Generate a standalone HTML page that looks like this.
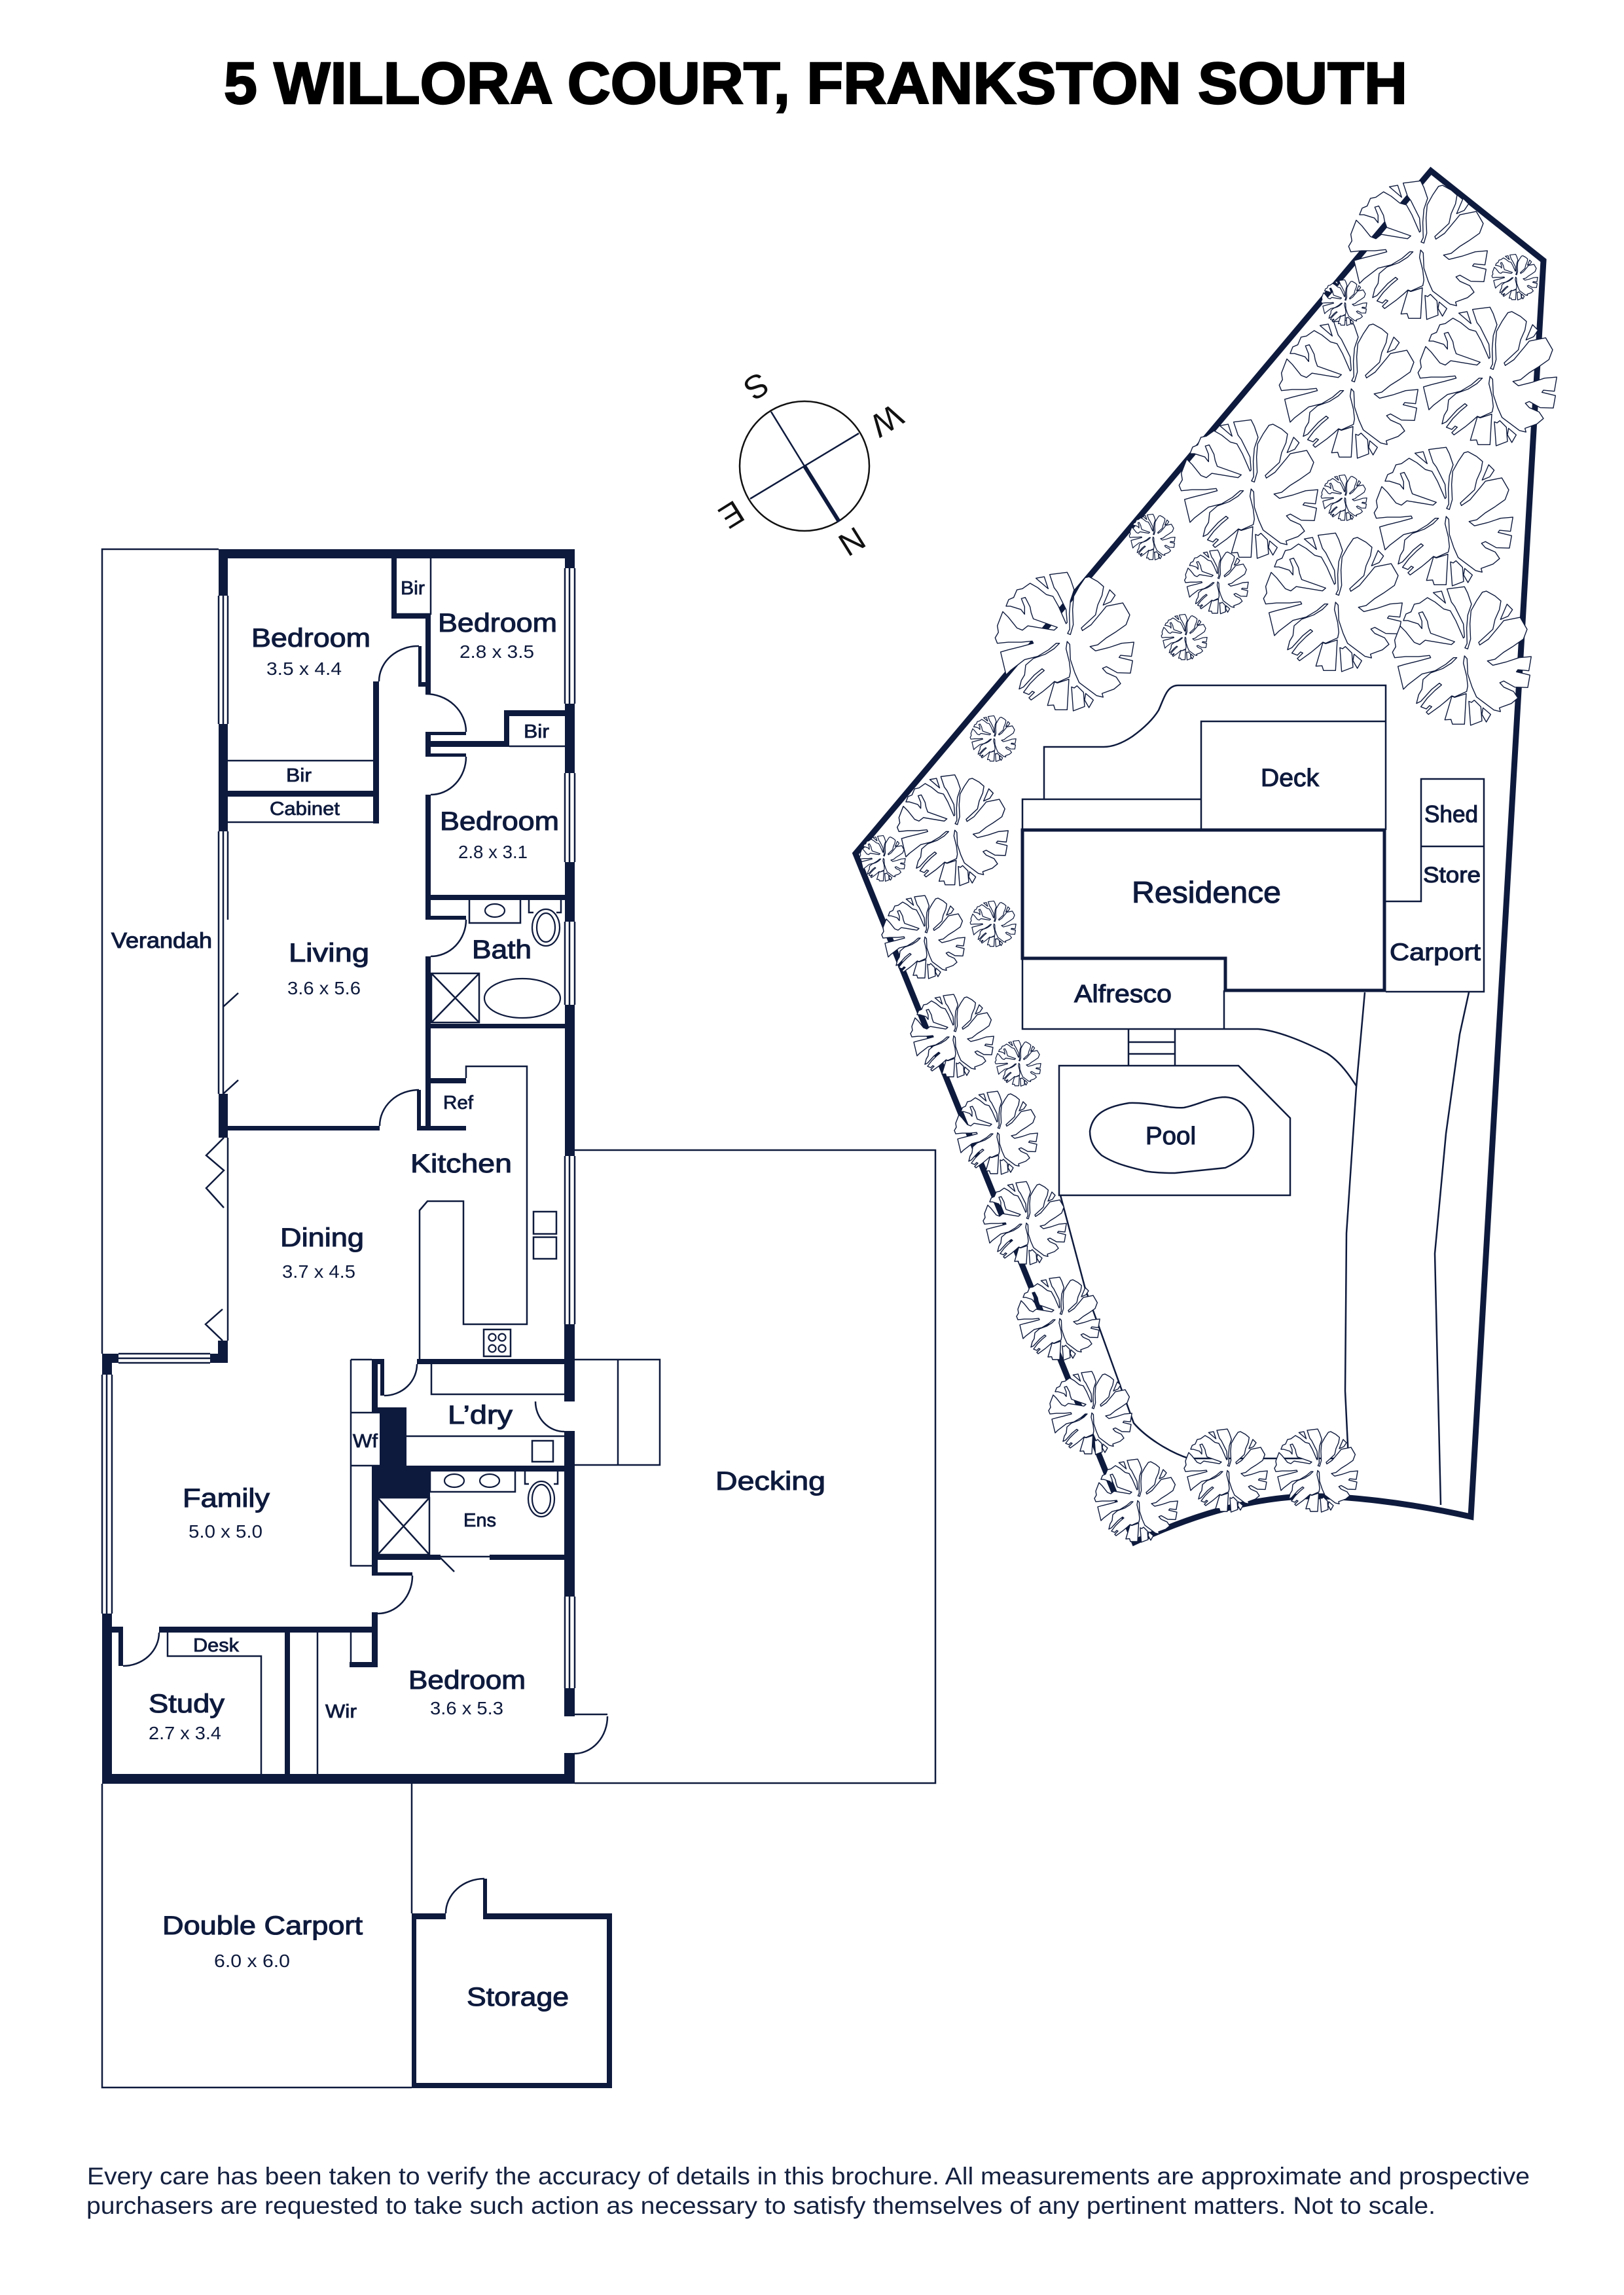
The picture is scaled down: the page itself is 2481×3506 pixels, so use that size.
<!DOCTYPE html>
<html><head><meta charset="utf-8"><style>
html,body{margin:0;padding:0;background:#fff}
svg{display:block}
text{font-family:"Liberation Sans",sans-serif;fill:#0e1a3d}
.l{font-size:40px;stroke:#0e1a3d;stroke-width:1.1px}
.s{font-size:29px;stroke:#0e1a3d;stroke-width:.8px}
.d{font-size:28px}
.thin{fill:none;stroke:#0e1a3d;stroke-width:2.5}
</style></head><body>
<svg xmlns="http://www.w3.org/2000/svg" width="2481" height="3506" viewBox="0 0 2481 3506">
<rect width="2481" height="3506" fill="#fff"/>
<defs>
<path id="t" fill="#fff" fill-rule="evenodd" stroke="#0e1a3d" stroke-linejoin="round" d="M250,30L330,20 345,50 362,100 345,150 340,210 342,280 332,300 345,305 358,260 355,190 360,130 385,85 412,45 430,40 470,62 497,85 490,125 470,170 460,215 395,275 400,287 440,260 490,200 510,175 585,160 617,215 600,260 550,295 510,320 470,352 435,360 460,380 520,365 580,345 636,340 625,405 575,400 568,410 630,425 620,482 560,480 510,452 492,460 510,480 555,500 575,530 545,555 490,575 495,592 465,585 425,555 385,525 365,480 345,420 342,350 330,337 325,370 340,430 345,475 340,500 285,525 272,520 250,540 220,565 165,605 155,595 180,570 170,565 155,580 130,570 160,530 195,495 225,470 215,462 180,490 130,545 110,555 120,515 135,490 140,445 175,415 230,395 270,370 295,345 280,345 245,375 195,405 135,420 70,470 50,490 25,385 60,375 120,360 175,345 170,335 120,340 60,340 10,345 0,320 15,295 10,265 35,200 60,225 100,275 125,285 150,265 270,285 285,272 175,233 165,205 160,178 138,135 120,140 135,178 135,212 118,190 70,175 50,175 62,145 85,135 100,100 125,95 160,70 195,90 235,122 265,130 290,175 325,255 330,250 325,190 285,110 270,90ZM187,47L225,40 243,95ZM495,170L525,100 550,125 530,155ZM272,522L240,630 268,628 275,650 330,650 338,510 285,527ZM350,545L362,550 375,540 405,570 410,635 358,655ZM415,575L450,605 430,640 410,605Z"/>
<g id="L"><use href="#t" transform="translate(-111.7,-108.3) scale(.3333)"/></g>
</defs>

<!-- title -->
<text x="342" y="158" font-size="90" font-weight="700" style="fill:#000;stroke:#000;stroke-width:2.4px" textLength="1808" lengthAdjust="spacingAndGlyphs">5 WILLORA COURT, FRANKSTON SOUTH</text>

<!-- compass -->
<circle cx="1229" cy="712" r="99" fill="none" stroke="#111" stroke-width="2.5"/>
<path d="M1178 629L1229 712M1312 662L1146 762" stroke="#0e1a3d" stroke-width="2.5" fill="none"/>
<path d="M1229 712L1282 797" stroke="#0e1a3d" stroke-width="6" fill="none"/>
<g style="font-size:50px" text-anchor="middle">
<text transform="translate(1156,591) rotate(148)" y="18" style="fill:#111">S</text>
<text transform="translate(1355,643) rotate(148)" y="18" style="fill:#111">W</text>
<text transform="translate(1302,828) rotate(148)" y="18" style="fill:#111">N</text>
<text transform="translate(1118,787) rotate(148)" y="18" style="fill:#111">E</text>
</g>

<!-- thin outlines -->
<path class="thin" d="M334 839H156V2068M156 2725V3189H629M629 2725V2923M878 1757H1429V2724H878M878 2077H1008V2238H878M944 2077V2238"/>

<!-- walls -->
<path fill="#0e1a3d" d="
M334 839H878V853H334Z
M334 853H348V910H334Z M334 1106H348V1270H334Z M334 1671H348V1738H334Z
M863 853H878V868H863Z M863 1075H878V1181H863Z M863 1317H878V1408H863Z M863 1535H878V1766H863Z M862 2023H878V2141H862Z M862 2186H878V2439H862Z M862 2579H878V2622H862Z M862 2678H878V2725H862Z
M598 853H606V945H598Z M598 938H658V945H598Z
M650 938H658V1060H650Z M639 987H644V1049H639Z M639 1042H658V1049H639Z
M650 1118H712V1123H650Z M650 1118H658V1156H650Z M650 1132H778V1141H650Z M770 1085H778V1141H770Z M770 1085H863V1094H770Z M650 1151H712V1156H650Z
M650 1214H658V1403H650Z M650 1367H863V1375H650Z M650 1399H712V1405H650Z M650 1461H658V1727H650Z M650 1564H863V1571H650Z
M570 1041H579V1258H570Z M348 1208H570V1217H348Z
M348 1720H580V1727H348Z M637 1665H643V1727H637Z M637 1720H712V1727H637Z M658 1647H712V1655H658Z
M637 2076H862V2084H637Z M568 2076H577V2158H568Z M568 2076H587V2084H568Z M581 2078H587V2132H581Z
M568 2150H621V2240H657V2288H568V2240H580V2158H568Z
M621 2239H862V2248H621Z
M568 2288H577V2407H568Z M568 2402H630V2407H568Z M568 2375H673V2383H568Z M748 2375H862V2383H748Z
M568 2463H577V2547H568Z M243 2485H576V2494H243Z M534 2539H576V2547H534Z
M156 2465H171V2725H156Z M171 2485H188V2494H171Z M181 2485H188V2545H181Z M156 2710H878V2725H156Z M435 2494H443V2710H435Z
M156 2068H181V2082H156Z M156 2082H171V2100H156Z M321 2068H348V2082H321Z M333 2048H348V2068H333Z
M629 2923H681V2932H629Z M738 2923H935V2932H738Z M629 2923H636V3190H629Z M927 2923H935V3190H927Z M629 3182H935V3190H629Z M738 2870H744V2932H738Z
"/>

<!-- interior thin lines, fixtures, arcs -->
<path class="thin" d="
M658 853V938H606
M348 1162H570M348 1256H570
M778 1140H863
M334 910V1106M341 910V1106M348 910V1106
M334 1270V1405M341 1270V1405M348 1270V1405
M334 1405V1671M341 1405V1671
M341 1538L364 1517M341 1671L364 1650
M863 868V1075M870 868V1075M878 868V1075
M863 1181V1317M870 1181V1317M878 1181V1317
M863 1408V1535M870 1408V1535M878 1408V1535
M863 1766V2023M870 1766V2023M878 1766V2023
M863 2439V2579M870 2439V2579M878 2439V2579
M156 2100V2465M163 2100V2465M171 2100V2465
M181 2068H321M181 2075H321M181 2082H321
M348 1738V2048
M342 1738L315 1765 342 1788 315 1815 342 1845
M340 2000L314 2023 340 2048
M712 1647V1629H805V2023H708V1835H653L641 1849V2076
M815 1851H850V1885H815ZM815 1890H850V1923H815Z
M739 2031H780V2072H739Z
M717 1375V1410H795V1375
M808 1375V1394H815M857 1375V1394H850
M659 1487H732V1562H659ZM659 1487L732 1562M732 1487L659 1562
M659 2084V2130H862
M536 2077H568M536 2077V2392H568M536 2158H580M536 2239H580
M621 2194H862
M813 2201H845V2233H813Z
M657 2248V2279H787V2248
M802 2248V2267H808M852 2248V2267H846
M577 2288H656V2375H577ZM577 2288L656 2375M656 2288L577 2375
M673 2378H748M673 2380L694 2401
M256 2494V2530H399V2710
M485 2494V2710M536 2494V2539
M579 1041A60 54 0 0 1 640 987
M650 1060A62 58 0 0 1 712 1118
M712 1156A54 58 0 0 1 658 1214
M712 1405A54 56 0 0 1 658 1461
M580 1720A60 55 0 0 1 640 1665
M587 2132A50 48 0 0 0 637 2084
M818 2141A44 46 0 0 0 862 2187
M630 2407A53 58 0 0 1 577 2465
M188 2545A55 51 0 0 0 243 2494
M878 2619H928
M928 2622A51 57 0 0 1 877 2679
M681 2923A59 53 0 0 1 740 2870
"/>
<g fill="none" stroke="#0e1a3d" stroke-width="2.2">
<ellipse cx="756" cy="1391" rx="15" ry="10"/>
<ellipse cx="834" cy="1417" rx="21" ry="28"/><ellipse cx="834" cy="1417" rx="14" ry="22"/>
<ellipse cx="798" cy="1525" rx="58" ry="30"/>
<ellipse cx="694" cy="2262" rx="15" ry="10"/><ellipse cx="748" cy="2262" rx="15" ry="10"/>
<ellipse cx="827" cy="2290" rx="20" ry="27"/><ellipse cx="827" cy="2290" rx="14" ry="22"/>
<circle cx="752" cy="2043" r="5.5"/><circle cx="767" cy="2043" r="5.5"/><circle cx="752" cy="2060" r="5.5"/><circle cx="767" cy="2060" r="5.5"/>
</g>

<!-- floor labels -->
<g>
<text class="l" x="384" y="988" textLength="182" lengthAdjust="spacingAndGlyphs">Bedroom</text>
<text class="d" x="407" y="1031" textLength="115" lengthAdjust="spacingAndGlyphs">3.5 x 4.4</text>
<text class="s" x="612" y="908" textLength="37" lengthAdjust="spacingAndGlyphs">Bir</text>
<text class="l" x="669" y="965" textLength="182" lengthAdjust="spacingAndGlyphs">Bedroom</text>
<text class="d" x="702" y="1005" textLength="114" lengthAdjust="spacingAndGlyphs">2.8 x 3.5</text>
<text class="s" x="800" y="1127" textLength="39" lengthAdjust="spacingAndGlyphs">Bir</text>
<text class="s" x="437" y="1194" textLength="39" lengthAdjust="spacingAndGlyphs">Bir</text>
<text class="s" x="412" y="1245" textLength="107" lengthAdjust="spacingAndGlyphs">Cabinet</text>
<text class="l" x="672" y="1268" textLength="182" lengthAdjust="spacingAndGlyphs">Bedroom</text>
<text class="d" x="700" y="1311" textLength="106" lengthAdjust="spacingAndGlyphs">2.8 x 3.1</text>
<text class="l" x="170" y="1448" style="font-size:33px" textLength="154" lengthAdjust="spacingAndGlyphs">Verandah</text>
<text class="l" x="441" y="1469" textLength="123" lengthAdjust="spacingAndGlyphs">Living</text>
<text class="d" x="439" y="1519" textLength="112" lengthAdjust="spacingAndGlyphs">3.6 x 5.6</text>
<text class="l" x="721" y="1464" textLength="91" lengthAdjust="spacingAndGlyphs">Bath</text>
<text class="s" x="677" y="1694" textLength="46" lengthAdjust="spacingAndGlyphs">Ref</text>
<text class="l" x="627" y="1791" textLength="155" lengthAdjust="spacingAndGlyphs">Kitchen</text>
<text class="l" x="428" y="1904" textLength="128" lengthAdjust="spacingAndGlyphs">Dining</text>
<text class="d" x="431" y="1952" textLength="112" lengthAdjust="spacingAndGlyphs">3.7 x 4.5</text>
<text class="l" x="279" y="2302" textLength="133" lengthAdjust="spacingAndGlyphs">Family</text>
<text class="d" x="288" y="2349" textLength="113" lengthAdjust="spacingAndGlyphs">5.0 x 5.0</text>
<text class="l" x="684" y="2175" textLength="99" lengthAdjust="spacingAndGlyphs">L’dry</text>
<text class="s" x="539" y="2211" textLength="38" lengthAdjust="spacingAndGlyphs">Wf</text>
<text class="s" x="708" y="2332" textLength="50" lengthAdjust="spacingAndGlyphs">Ens</text>
<text class="s" x="295" y="2523" textLength="70" lengthAdjust="spacingAndGlyphs">Desk</text>
<text class="l" x="227" y="2616" textLength="116" lengthAdjust="spacingAndGlyphs">Study</text>
<text class="d" x="227" y="2657" textLength="111" lengthAdjust="spacingAndGlyphs">2.7 x 3.4</text>
<text class="l" x="624" y="2580" textLength="179" lengthAdjust="spacingAndGlyphs">Bedroom</text>
<text class="d" x="657" y="2619" textLength="112" lengthAdjust="spacingAndGlyphs">3.6 x 5.3</text>
<text class="s" x="497" y="2624" textLength="48" lengthAdjust="spacingAndGlyphs">Wir</text>
<text class="l" x="248" y="2955" textLength="306" lengthAdjust="spacingAndGlyphs">Double Carport</text>
<text class="d" x="327" y="3005" textLength="116" lengthAdjust="spacingAndGlyphs">6.0 x 6.0</text>
<text class="l" x="713" y="3064" textLength="156" lengthAdjust="spacingAndGlyphs">Storage</text>
<text class="l" x="1093" y="2276" textLength="168" lengthAdjust="spacingAndGlyphs">Decking</text>
</g>

<!-- site: boundary -->
<path fill="none" stroke="#0e1a3d" stroke-width="9" stroke-linejoin="miter" d="M2186 261L2358 398 2247 2317C2150 2295 2050 2284 1990 2286C1900 2290 1810 2320 1733 2356L1307 1304Z"/>

<!-- site: house -->
<path class="thin" d="
M1595 1221V1141H1686C1700 1141 1715 1135 1730 1125C1748 1112 1762 1098 1770 1085C1778 1068 1782 1047 1800 1047H2117V1268
M1835 1268V1102H2117
M1562 1268V1221H1835
M1562 1464V1572H1870V1513
M1724 1572V1628M1795 1572V1628M1724 1592H1795M1724 1610H1795
M1618 1628H1892L1971 1708V1826H1618Z
M1665 1728C1668 1708 1680 1692 1725 1685C1760 1684 1785 1694 1809 1692C1830 1688 1850 1676 1872 1676C1900 1678 1915 1700 1915 1728C1915 1750 1908 1768 1872 1784L1795 1792C1770 1792 1750 1790 1746 1788C1720 1782 1700 1776 1683 1765C1672 1755 1665 1745 1665 1728Z
M2117 1377H2171V1190H2267V1515H2117
M2171 1293H2267
M2085 1516L2072 1661 2057 1884 2055 2125 2060 2228
M2244 1516L2230 1580 2209 1732 2192 1915 2201 2299
M1870 1572H1922C1950 1574 1990 1590 2027 1609C2045 1620 2060 1640 2072 1659
M1620 1826L1658 1969 1711 2116 1732 2174C1750 2195 1785 2218 1816 2228H2060
"/>
<path fill="none" stroke="#0e1a3d" stroke-width="5" d="M1562 1268H2115V1513H1872V1464H1562Z"/>

<!-- trees -->
<g stroke-width="4.2">
<use href="#L" transform="translate(2172,378)" />
<use href="#L" transform="translate(2066,590)" />
<use href="#L" transform="translate(2278,571)" />
<use href="#L" transform="translate(1913,743)" />
<use href="#L" transform="translate(2211,785)" />
<use href="#L" transform="translate(2042,916)" />
<use href="#L" transform="translate(2239,998)" />
<use href="#L" transform="translate(1632,976)" />
</g>
<g stroke-width="5.4">
<use href="#L" transform="translate(1460,1265) scale(.8)" />
</g>
<g stroke-width="7">
<use href="#L" transform="translate(1414,1429) scale(.6)" />
<use href="#L" transform="translate(1458,1580) scale(.6)" />
<use href="#L" transform="translate(1525,1728) scale(.6)" />
<use href="#L" transform="translate(1569,1866) scale(.6)" />
<use href="#L" transform="translate(1620,2012) scale(.6)" />
<use href="#L" transform="translate(1669,2156) scale(.6)" />
<use href="#L" transform="translate(1739,2290) scale(.6)" />
<use href="#L" transform="translate(1876,2244) scale(.6)" />
<use href="#L" transform="translate(2014,2244) scale(.6)" />
</g>
<g stroke-width="11">
<use href="#L" transform="translate(2316,422) scale(.33)" />
<use href="#L" transform="translate(2055,461) scale(.33)" />
<use href="#L" transform="translate(2055,759) scale(.33)" />
<use href="#L" transform="translate(1762,819) scale(.33)" />
<use href="#L" transform="translate(1811,972) scale(.33)" />
<use href="#L" transform="translate(1519,1127) scale(.33)" />
<use href="#L" transform="translate(1350,1310) scale(.33)" />
<use href="#L" transform="translate(1519,1410) scale(.33)" />
<use href="#L" transform="translate(1557,1623) scale(.33)" />
</g>
<g stroke-width="8.5">
<use href="#L" transform="translate(1861,887) scale(.46)" />
</g>

<!-- site labels -->
<text class="l" x="1926" y="1201" style="font-size:38px" textLength="89" lengthAdjust="spacingAndGlyphs">Deck</text>
<text class="l" x="1729" y="1379" style="font-size:46px" textLength="228" lengthAdjust="spacingAndGlyphs">Residence</text>
<text class="l" x="2176" y="1256" style="font-size:36px" textLength="82" lengthAdjust="spacingAndGlyphs">Shed</text>
<text class="l" x="2174" y="1348" style="font-size:34px" textLength="88" lengthAdjust="spacingAndGlyphs">Store</text>
<text class="l" x="2123" y="1467" style="font-size:37px" textLength="139" lengthAdjust="spacingAndGlyphs">Carport</text>
<text class="l" x="1641" y="1531" style="font-size:38px" textLength="149" lengthAdjust="spacingAndGlyphs">Alfresco</text>
<text class="l" x="1750" y="1748" style="font-size:38px" textLength="77" lengthAdjust="spacingAndGlyphs">Pool</text>

<!-- footer -->
<text x="133" y="3337" font-size="37" style="fill:#14203f" textLength="2204" lengthAdjust="spacingAndGlyphs">Every care has been taken to verify the accuracy of details in this brochure. All measurements are approximate and prospective</text>
<text x="132" y="3382" font-size="37" style="fill:#14203f" textLength="2061" lengthAdjust="spacingAndGlyphs">purchasers are requested to take such action as necessary to satisfy themselves of any pertinent matters. Not to scale.</text>
</svg>
</body></html>
